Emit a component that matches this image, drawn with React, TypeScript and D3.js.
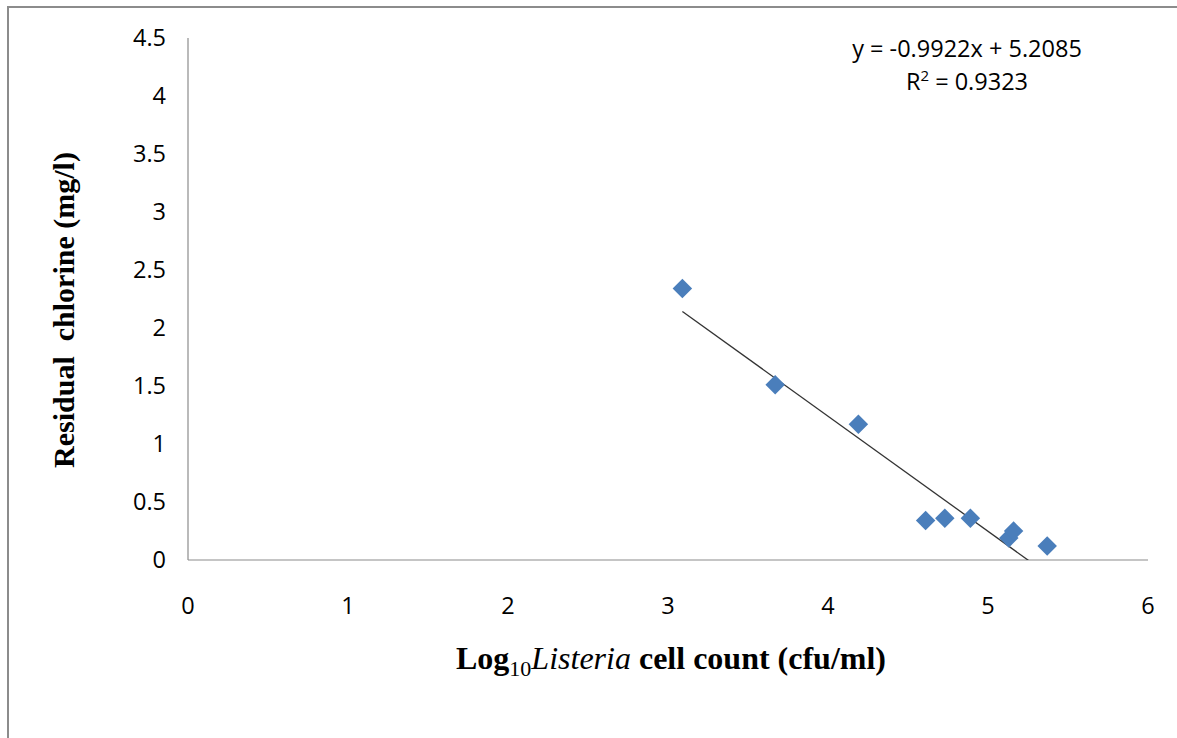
import React, { useRef, useEffect } from 'react';
import * as d3 from 'd3';

// Log10 Listeria cell count vs residual chlorine
const logCounts = [3.09, 3.67, 4.19, 4.61, 4.73, 4.89, 5.13, 5.16, 5.37];
const chlorine = [2.34, 1.51, 1.17, 0.34, 0.36, 0.36, 0.19, 0.25, 0.12];
const xTicks = [0, 1, 2, 3, 4, 5, 6];
const yTicks = [0, 0.5, 1, 1.5, 2, 2.5, 3, 3.5, 4, 4.5];
const slope = -0.9922;
const intercept = 5.2085;
const equationLabel = 'y = -0.9922x + 5.2085';
const r2Value = '0.9323';

const App: React.FC = () => {
  const svgRef = useRef<SVGSVGElement>(null);

  useEffect(() => {
    if (!svgRef.current) return;
    const svg = d3.select(svgRef.current);
    svg.selectAll('*').remove();

    const W = 1177, H = 738;
    const left = 188, right = 1148, top = 38, bottom = 560;

    const x = d3.scaleLinear().domain([0, 6]).range([left, right]);
    const y = d3.scaleLinear().domain([0, 4.5]).range([bottom, top]);

    svg.append('rect').attr('width', W).attr('height', H).attr('fill', '#fff');

    // outer chart border (top and left visible)
    svg.append('path')
      .attr('d', `M8,${H} L8,7 L${W},7`)
      .attr('fill', 'none')
      .attr('stroke', '#8c8c8c')
      .attr('stroke-width', 2);

    const tickFont = '"Open Sans", sans-serif';

    // axes lines
    svg.append('line')
      .attr('x1', x(0)).attr('x2', x(0)).attr('y1', y(4.5)).attr('y2', y(0))
      .attr('stroke', '#8c8c8c').attr('stroke-width', 1.2);
    svg.append('line')
      .attr('x1', x(0)).attr('x2', x(6)).attr('y1', y(0)).attr('y2', y(0))
      .attr('stroke', '#8c8c8c').attr('stroke-width', 1.2);

    svg.append('g').selectAll('text')
      .data(yTicks)
      .join('text')
      .attr('x', 166)
      .attr('y', d => y(d) + 8)
      .attr('text-anchor', 'end')
      .attr('font-family', tickFont)
      .attr('font-size', 23.5)
      .attr('fill', '#000')
      .text(d => String(d));

    svg.append('g').selectAll('text')
      .data(xTicks)
      .join('text')
      .attr('x', d => x(d))
      .attr('y', 614)
      .attr('text-anchor', 'middle')
      .attr('font-family', tickFont)
      .attr('font-size', 23.5)
      .attr('fill', '#000')
      .text(d => String(d));

    // trendline, clipped to the plot area
    svg.append('clipPath').attr('id', 'plotClip')
      .append('rect')
      .attr('x', left).attr('y', top)
      .attr('width', right - left).attr('height', bottom - top);

    const xMin = d3.min(logCounts) as number;
    const xMax = d3.max(logCounts) as number;
    svg.append('line')
      .attr('clip-path', 'url(#plotClip)')
      .attr('x1', x(xMin)).attr('y1', y(slope * xMin + intercept))
      .attr('x2', x(xMax)).attr('y2', y(slope * xMax + intercept))
      .attr('stroke', '#333')
      .attr('stroke-width', 1.3);

    // diamond markers
    const diamond = d3.symbol().type(d3.symbolSquare).size(190);
    svg.append('g').selectAll('path')
      .data(logCounts.map((v, i) => [v, chlorine[i]]))
      .join('path')
      .attr('d', diamond)
      .attr('transform', d => `translate(${x(d[0])},${y(d[1])}) rotate(45)`)
      .attr('fill', '#4a7ebb');

    // equation
    svg.append('text')
      .attr('x', 967).attr('y', 57)
      .attr('text-anchor', 'middle')
      .attr('font-family', tickFont)
      .attr('font-size', 23.5)
      .text(equationLabel);
    const r2 = svg.append('text')
      .attr('x', 967).attr('y', 90)
      .attr('text-anchor', 'middle')
      .attr('font-family', tickFont)
      .attr('font-size', 23.5);
    r2.append('tspan').text('R');
    r2.append('tspan').attr('font-size', 15).attr('dy', -9).text('2');
    r2.append('tspan').attr('dy', 9).text(` = ${r2Value}`);

    // axis titles
    const titleFont = '"Liberation Serif", "Times New Roman", serif';
    const xt = svg.append('text')
      .attr('x', 671).attr('y', 669)
      .attr('text-anchor', 'middle')
      .attr('font-family', titleFont)
      .attr('font-weight', 'bold')
      .attr('font-size', 32);
    xt.append('tspan').text('Log');
    xt.append('tspan').attr('font-size', 22).attr('font-weight', 'normal').attr('dy', 7).text('10');
    xt.append('tspan').attr('dy', -7).attr('font-style', 'italic').attr('font-weight', 'normal').text('Listeria');
    xt.append('tspan').text(' cell count (cfu/ml)');

    svg.append('text')
      .attr('transform', `translate(74,310) rotate(-90)`)
      .attr('text-anchor', 'middle')
      .attr('font-family', titleFont)
      .attr('font-weight', 'bold')
      .attr('font-size', 30)
      .attr('xml:space', 'preserve')
      .style('white-space', 'pre')
      .text('Residual  chlorine (mg/l)');
  }, []);

  return (
    <svg ref={svgRef} width={1177} height={738}
      style={{ position: 'absolute', left: 0, top: 0 }} />
  );
};

export default App;
